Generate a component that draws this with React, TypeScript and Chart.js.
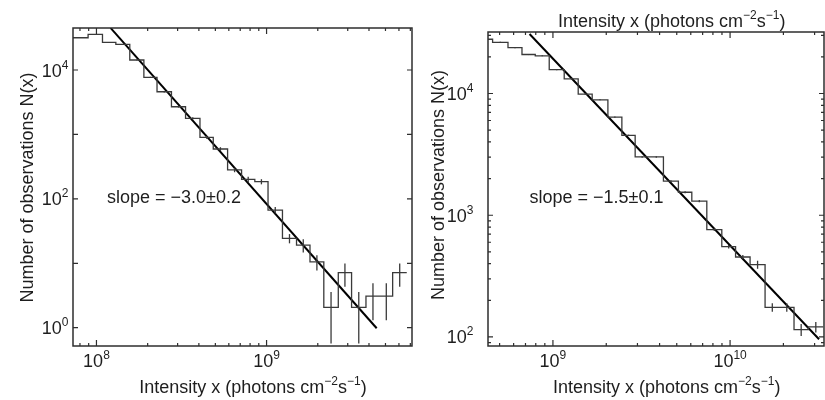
import React, { useEffect, useRef } from "react";
import { Chart, registerables } from "chart.js";

Chart.register(...registerables);

// ---------------- Left panel data ----------------
const leftBinEdges = [
  7.2e7, 8.93e7, 1.085e8, 1.3e8, 1.57e8, 1.9e8, 2.27e8, 2.76e8, 3.34e8, 4.06e8,
  4.86e8, 5.9e8, 7.13e8, 8.53e8, 1.02e9, 1.24e9, 1.5e9, 1.8e9, 2.17e9, 2.64e9,
  3.16e9, 3.84e9, 4.64e9, 5.51e9, 6.67e9,
];
const leftCounts = [
  31700, 35800, 26900, 25000, 14300, 7700, 4600, 2690, 1780, 902, 594, 281, 201,
  185, 67, 24.4, 19.2, 10.5, 2.07, 7.14, 2.07, 3.1, 3.1, 7.14,
];
const leftErrors = [
  300, 320, 280, 270, 200, 150, 110, 80, 70, 45, 40, 22, 20, 17, 8, 4, 4.5, 2.8,
  1.5, 2.8, 1.5, 1.8, 1.8, 2.8,
];
const leftFitX = [1.21e8, 4.44e9];
const leftFitY = [45000, 0.98];
const leftXRange = [7.28e7, 7.16e9];
const leftYRange = [0.52, 44900];
const leftXTickLabels = [
  { v: 1e8, base: "10", exp: "8" },
  { v: 1e9, base: "10", exp: "9" },
];
const leftYTickLabels = [
  { v: 1, base: "10", exp: "0" },
  { v: 100, base: "10", exp: "2" },
  { v: 10000, base: "10", exp: "4" },
];
const leftSlopeText = "slope = −3.0±0.2";

// ---------------- Right panel data ----------------
const rightBinEdges = [
  3.79e8, 4.565e8, 5.576e8, 6.688e8, 7.948e8, 9.53e8, 1.158e9, 1.389e9, 1.666e9,
  2.043e9, 2.45e9, 2.912e9, 3.493e9, 4.205e9, 5.11e9, 6.081e9, 7.39e9, 8.98e9,
  1.074e10, 1.297e10, 1.576e10, 1.902e10, 2.296e10, 2.765e10, 3.359e10,
];
const rightCounts = [
  27900, 26300, 23800, 20900, 20400, 15700, 13200, 9890, 8870, 6390, 4530, 3010,
  3010, 1905, 1545, 1304, 762, 552, 454, 393, 175, 175, 115, 121,
];
const rightErrors = [
  280, 260, 240, 210, 200, 160, 130, 100, 90, 70, 60, 45, 45, 35, 30, 28, 20, 18,
  17, 30, 14, 14, 13, 12,
];
const rightFitX = [7.38e8, 3.18e10];
const rightFitY = [30800, 95.7];
const rightXRange = [4.3e8, 3.39e10];
const rightYRange = [84.3, 32000];
const rightXTickLabels = [
  { v: 1e9, base: "10", exp: "9" },
  { v: 1e10, base: "10", exp: "10" },
];
const rightYTickLabels = [
  { v: 100, base: "10", exp: "2" },
  { v: 1000, base: "10", exp: "3" },
  { v: 10000, base: "10", exp: "4" },
];
const rightSlopeText = "slope = −1.5±0.1";

const yTitle = "Number of observations N(x)";
const xTitleSegs = [
  { t: "Intensity x (photons cm" },
  { t: "−2", sup: true },
  { t: "s" },
  { t: "−1", sup: true },
  { t: ")" },
];

// ---------------- Styling ----------------
const FONT_FAMILY = '"Liberation Sans", Arial, Helvetica, sans-serif';
const MAIN = 18;
const SUP = 12;
const SUP_RAISE = 8;
const TEXT_COLOR = "#1e1e1e";
const HIST_COLOR = "#3a3a3a";
const AXIS_COLOR = "#2e2e2e";

type Seg = { t: string; sup?: boolean };

function fnt(sz: number) {
  return `${sz}px ${FONT_FAMILY}`;
}

function segsWidth(ctx: CanvasRenderingContext2D, segs: Seg[]) {
  let w = 0;
  for (const s of segs) {
    ctx.font = fnt(s.sup ? SUP : MAIN);
    w += ctx.measureText(s.t).width;
  }
  return w;
}

function drawSegs(
  ctx: CanvasRenderingContext2D,
  segs: Seg[],
  x: number,
  y: number,
  align: "left" | "center" | "right"
) {
  const w = segsWidth(ctx, segs);
  let cx = align === "left" ? x : align === "center" ? x - w / 2 : x - w;
  ctx.textAlign = "left";
  ctx.textBaseline = "alphabetic";
  ctx.fillStyle = TEXT_COLOR;
  for (const s of segs) {
    ctx.font = fnt(s.sup ? SUP : MAIN);
    ctx.fillText(s.t, cx, s.sup ? y - SUP_RAISE : y);
    cx += ctx.measureText(s.t).width;
  }
}

function logTicks(min: number, max: number) {
  const out: { v: number; major: boolean }[] = [];
  const e0 = Math.floor(Math.log10(min));
  const e1 = Math.ceil(Math.log10(max));
  for (let e = e0; e <= e1; e++) {
    for (let m = 1; m <= 9; m++) {
      const v = m * Math.pow(10, e);
      if (v >= min * 0.999 && v <= max * 1.001) out.push({ v, major: m === 1 });
    }
  }
  return out;
}

type Panel = {
  edges: number[];
  counts: number[];
  errors: number[];
  fitX: number[];
  fitY: number[];
  xRange: number[];
  yRange: number[];
  xLabels: { v: number; base: string; exp: string }[];
  yLabels: { v: number; base: string; exp: string }[];
  yMinor: boolean;
  slope: string;
  padding: { left: number; right: number; top: number; bottom: number };
  yLabelRight: number;
  slopeX: number;
  yTitleX: number;
  yTitleY: number;
  xTitleX: number;
  topTitleX: number | null;
};

function makePlugin(p: Panel) {
  return {
    id: "panelDecor",
    afterDatasetsDraw(chart: any) {
      const { ctx, chartArea: a } = chart;
      const x = chart.scales.x;
      const y = chart.scales.y;
      ctx.save();
      ctx.beginPath();
      ctx.rect(a.left, a.top, a.right - a.left, a.bottom - a.top);
      ctx.clip();
      ctx.strokeStyle = HIST_COLOR;
      ctx.lineWidth = 1.3;
      p.counts.forEach((c, i) => {
        const xc = Math.sqrt(p.edges[i] * p.edges[i + 1]);
        const px = x.getPixelForValue(xc);
        const lo = Math.max(c - p.errors[i], 1e-3);
        const hi = c + p.errors[i];
        ctx.beginPath();
        ctx.moveTo(px, y.getPixelForValue(lo));
        ctx.lineTo(px, y.getPixelForValue(hi));
        ctx.stroke();
      });
      ctx.restore();
    },
    afterDraw(chart: any) {
      const { ctx, chartArea: a } = chart;
      const x = chart.scales.x;
      const y = chart.scales.y;
      ctx.save();
      // border
      ctx.strokeStyle = AXIS_COLOR;
      ctx.lineWidth = 1.5;
      ctx.strokeRect(a.left, a.top, a.right - a.left, a.bottom - a.top);
      // x ticks (bottom and top, inward)
      ctx.lineWidth = 1.2;
      for (const t of logTicks(p.xRange[0], p.xRange[1])) {
        const px = x.getPixelForValue(t.v);
        const len = t.major ? 6 : 3;
        ctx.beginPath();
        ctx.moveTo(px, a.bottom);
        ctx.lineTo(px, a.bottom - len);
        ctx.moveTo(px, a.top);
        ctx.lineTo(px, a.top + len);
        ctx.stroke();
      }
      // y ticks (left and right, inward)
      for (const t of logTicks(p.yRange[0], p.yRange[1])) {
        if (!p.yMinor && !t.major) continue;
        const py = y.getPixelForValue(t.v);
        const len = t.major ? 5 : 3;
        ctx.beginPath();
        ctx.moveTo(a.left, py);
        ctx.lineTo(a.left + len, py);
        ctx.moveTo(a.right, py);
        ctx.lineTo(a.right - len, py);
        ctx.stroke();
      }
      // tick labels
      for (const l of p.xLabels) {
        const px = x.getPixelForValue(l.v);
        drawSegs(ctx, [{ t: l.base }, { t: l.exp, sup: true }], px, a.bottom + 20.5, "center");
      }
      for (const l of p.yLabels) {
        const py = y.getPixelForValue(l.v);
        drawSegs(ctx, [{ t: l.base }, { t: l.exp, sup: true }], p.yLabelRight, py + 6.5, "right");
      }
      // axis titles
      drawSegs(ctx, xTitleSegs, p.xTitleX, 393, "center");
      if (p.topTitleX !== null) drawSegs(ctx, xTitleSegs, p.topTitleX, 26.5, "center");
      ctx.save();
      ctx.translate(p.yTitleX, p.yTitleY);
      ctx.rotate(-Math.PI / 2);
      drawSegs(ctx, [{ t: yTitle }], 0, 0, "center");
      ctx.restore();
      // slope annotation
      drawSegs(ctx, [{ t: p.slope }], p.slopeX, 202.5, "left");
      ctx.restore();
    },
  };
}

function buildConfig(p: Panel): any {
  const hist = p.edges.map((e, i) => ({
    x: e,
    y: p.counts[Math.min(i, p.counts.length - 1)],
  }));
  const fit = p.fitX.map((v, i) => ({ x: v, y: p.fitY[i] }));
  return {
    type: "line",
    data: {
      datasets: [
        {
          data: hist,
          stepped: true,
          borderColor: HIST_COLOR,
          borderWidth: 1.3,
          pointRadius: 0,
          fill: false,
        },
        {
          data: fit,
          borderColor: "#000",
          borderWidth: 2,
          pointRadius: 0,
          fill: false,
        },
      ],
    },
    options: {
      animation: false,
      responsive: false,
      devicePixelRatio: 1,
      events: [],
      layout: { padding: p.padding },
      plugins: { legend: { display: false }, tooltip: { enabled: false } },
      scales: {
        x: { type: "logarithmic", min: p.xRange[0], max: p.xRange[1], display: false },
        y: { type: "logarithmic", min: p.yRange[0], max: p.yRange[1], display: false },
      },
    },
    plugins: [makePlugin(p)],
  };
}

const leftPanel: Panel = {
  edges: leftBinEdges,
  counts: leftCounts,
  errors: leftErrors,
  fitX: leftFitX,
  fitY: leftFitY,
  xRange: leftXRange,
  yRange: leftYRange,
  xLabels: leftXTickLabels,
  yLabels: leftYTickLabels,
  yMinor: false,
  slope: leftSlopeText,
  padding: { left: 73, right: 3, top: 28, bottom: 54 },
  yLabelRight: 68.5,
  slopeX: 107,
  yTitleX: 33,
  yTitleY: 187.5,
  xTitleX: 253,
  topTitleX: null,
};

const rightPanel: Panel = {
  edges: rightBinEdges,
  counts: rightCounts,
  errors: rightErrors,
  fitX: rightFitX,
  fitY: rightFitY,
  xRange: rightXRange,
  yRange: rightYRange,
  xLabels: rightXTickLabels,
  yLabels: rightYTickLabels,
  yMinor: true,
  slope: rightSlopeText,
  padding: { left: 73, right: 1, top: 32, bottom: 54 },
  yLabelRight: 58.5,
  slopeX: 114.5,
  yTitleX: 29,
  yTitleY: 185,
  xTitleX: 251.7,
  topTitleX: 256.7,
};

export default function App() {
  const leftRef = useRef<HTMLCanvasElement>(null);
  const rightRef = useRef<HTMLCanvasElement>(null);
  useEffect(() => {
    const c1 = new Chart(leftRef.current as HTMLCanvasElement, buildConfig(leftPanel));
    const c2 = new Chart(rightRef.current as HTMLCanvasElement, buildConfig(rightPanel));
    return () => {
      c1.destroy();
      c2.destroy();
    };
  }, []);
  return (
    <div
      style={{
        position: "fixed",
        left: 0,
        top: 0,
        width: 825,
        height: 400,
        background: "#fff",
      }}
    >
      <canvas
        ref={leftRef}
        width={415}
        height={400}
        style={{ position: "absolute", left: 0, top: 0, width: 415, height: 400 }}
      />
      <canvas
        ref={rightRef}
        width={410}
        height={400}
        style={{ position: "absolute", left: 415, top: 0, width: 410, height: 400 }}
      />
    </div>
  );
}
